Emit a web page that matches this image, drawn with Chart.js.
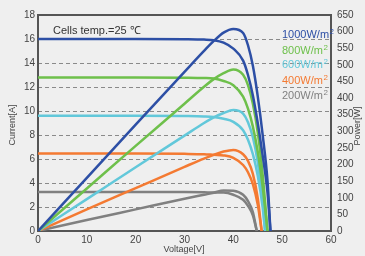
<!DOCTYPE html>
<html>
<head>
<meta charset="utf-8">
<script src="https://cdn.jsdelivr.net/npm/chart.js@4"></script>
<style>
  html, body { margin: 0; padding: 0; background: #efefef; }
  #wrap { width: 365px; height: 256px; }
</style>
</head>
<body>
<div id="wrap"><canvas id="ivChart" width="365" height="256"></canvas></div>
<script>
// irradiance labels and colours
const labels = ["1000W/m", "800W/m", "600W/m", "400W/m", "200W/m"];
const colors = ["#2d4fa5", "#6ec04b", "#62c8da", "#f47a32", "#808080"];

// dashed grid lines (current axis)
const gridLines = [2, 4, 6, 8, 10, 12, 14, 16];

// voltage [V], current [A], power [W]
const v1000 = [0, 10, 20, 30, 34, 36, 38, 40, 42, 43, 44, 45, 46, 47, 47.6];
const i1000 = [16.0, 16.0, 16.0, 15.98, 15.95, 15.9, 15.7, 15.2, 14.2, 13.0, 11.3, 9.0, 6.3, 3.2, 0];
const p1000 = [0, 160, 320, 479, 542, 572, 597, 608, 596, 559, 497, 405, 290, 150, 0];

const v800 = [0, 10, 20, 30, 34, 36, 38, 40, 42, 43, 44, 45, 46, 47.0];
const i800 = [12.8, 12.8, 12.8, 12.78, 12.75, 12.7, 12.5, 12.15, 11.2, 10.2, 8.7, 6.6, 3.7, 0];
const p800 = [0, 128, 256, 383, 434, 457, 475, 486, 470, 439, 383, 297, 170, 0];

const v600 = [0, 10, 20, 30, 34, 36, 38, 40, 42, 43, 44, 45, 46, 46.5];
const i600 = [9.6, 9.6, 9.6, 9.58, 9.55, 9.5, 9.35, 9.1, 8.4, 7.6, 6.4, 4.6, 2.0, 0];
const p600 = [0, 96, 192, 287, 325, 342, 355, 364, 353, 327, 282, 207, 92, 0];

const v400 = [0, 10, 20, 30, 34, 36, 38, 40, 42, 43, 44, 45, 45.8];
const i400 = [6.45, 6.45, 6.45, 6.43, 6.4, 6.35, 6.3, 6.1, 5.5, 4.9, 3.9, 2.2, 0];
const p400 = [0, 65, 129, 193, 218, 229, 239, 244, 231, 211, 172, 99, 0];

const v200 = [0, 10, 20, 30, 34, 36, 38, 40, 42, 43, 44, 44.8];
const i200 = [3.25, 3.25, 3.25, 3.24, 3.22, 3.2, 3.2, 3.02, 2.6, 2.1, 1.3, 0];
const p200 = [0, 33, 65, 97, 109, 115, 122, 121, 109, 90, 57, 0];

const volts = [v1000, v800, v600, v400, v200];
const currents = [i1000, i800, i600, i400, i200];
const powers = [p1000, p800, p600, p400, p200];

const font = "'Liberation Sans', Arial, sans-serif";

function pts(xs, ys) {
  return xs.map((x, k) => ({ x: x, y: ys[k] }));
}

let datasets = [];
labels.forEach((lab, k) => {
  datasets.push({
    label: lab + "2 I",
    data: pts(volts[k], currents[k]),
    yAxisID: "y",
    borderColor: colors[k],
    borderWidth: 2.5,
    pointRadius: 0,
    cubicInterpolationMode: "monotone"
  });
  datasets.push({
    label: lab + "2 P",
    data: pts(volts[k], powers[k]),
    yAxisID: "y1",
    borderColor: colors[k],
    borderWidth: 2.5,
    pointRadius: 0,
    cubicInterpolationMode: "monotone"
  });
});

// frame, dashed grid and texts
const extras = {
  id: "extras",
  beforeDatasetsDraw(chart) {
    const c = chart.ctx, a = chart.chartArea, y = chart.scales.y;
    c.save();
    c.strokeStyle = "#8a8a8a";
    c.lineWidth = 1;
    c.setLineDash([4, 3]);
    gridLines.forEach(g => {
      const py = Math.round(y.getPixelForValue(g)) + 0.5;
      c.beginPath();
      c.moveTo(a.left, py);
      c.lineTo(a.right, py);
      c.stroke();
    });
    c.setLineDash([]);
    c.strokeStyle = "#555";
    c.lineWidth = 2;
    c.strokeRect(a.left, a.top, a.right - a.left, a.bottom - a.top);
    c.restore();
  },
  afterDraw(chart) {
    const c = chart.ctx;
    c.save();
    c.fillStyle = "#333";
    c.font = "11px " + font;
    c.textBaseline = "alphabetic";
    c.fillText("Cells temp.=25 ℃", 53, 34);

    const ys = [38, 54, 68, 84, 99];
    labels.forEach((lab, k) => {
      c.fillStyle = colors[k];
      c.font = "11px " + font;
      c.fillText(lab, 282, ys[k]);
      const w = c.measureText(lab).width;
      c.font = "8px " + font;
      c.fillText("2", 282 + w + 0.5, ys[k] - 4);
    });

    c.fillStyle = "#444";
    c.font = "9px " + font;
    c.textAlign = "center";
    c.textBaseline = "middle";
    c.fillText("Voltage[V]", 184, 250);
    c.save();
    c.translate(13, 125);
    c.rotate(-Math.PI / 2);
    c.fillText("Current[A]", 0, 0);
    c.restore();
    c.save();
    c.translate(358, 126);
    c.rotate(-Math.PI / 2);
    c.fillText("Power[W]", 0, 0);
    c.restore();
    c.restore();
  }
};

new Chart("ivChart", {
  type: "line",
  data: { datasets: datasets },
  plugins: [extras],
  options: {
    responsive: false,
    animation: false,
    layout: { padding: { top: 15, left: 0, right: 0, bottom: 0 } },
    plugins: { legend: { display: false }, tooltip: { enabled: false } },
    scales: {
      x: {
        type: "linear",
        min: 0, max: 60,
        ticks: { stepSize: 10, color: "#444", font: { size: 10, family: font }, padding: 3 },
        grid: { display: false, drawTicks: false },
        border: { display: false },
        afterFit(s) { s.height = 25; }
      },
      y: {
        position: "left",
        min: 0, max: 18,
        ticks: { stepSize: 2, color: "#444", font: { size: 10, family: font }, padding: 3 },
        grid: { display: false, drawTicks: false },
        border: { display: false },
        afterFit(s) { s.width = 38; }
      },
      y1: {
        position: "right",
        min: 0, max: 650,
        ticks: { stepSize: 50, color: "#444", font: { size: 10, family: font }, padding: 6 },
        grid: { display: false, drawTicks: false },
        border: { display: false },
        afterFit(s) { s.width = 34; }
      }
    }
  }
});
</script>
</body>
</html>
